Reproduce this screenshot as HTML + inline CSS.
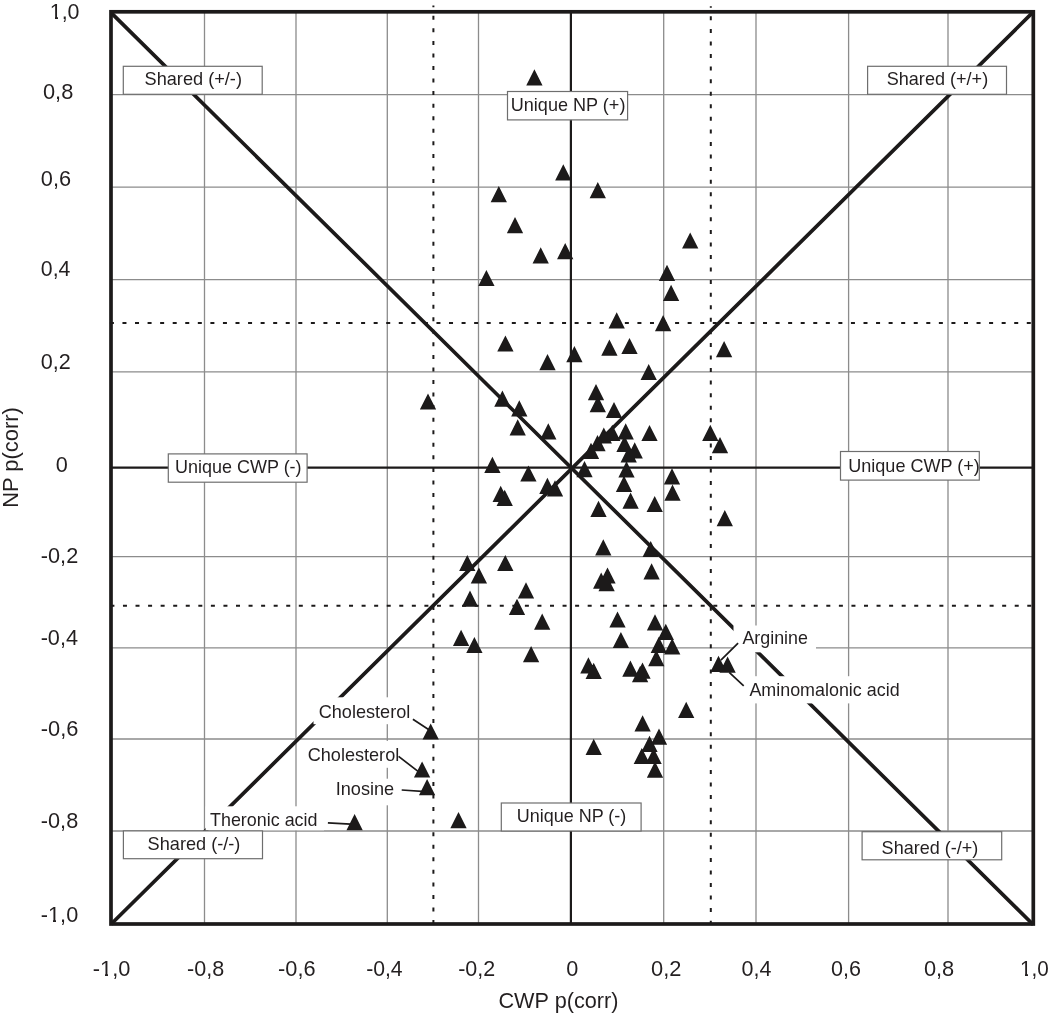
<!DOCTYPE html>
<html><head><meta charset="utf-8"><title>CWP vs NP p(corr)</title>
<style>html,body{margin:0;padding:0;background:#fff;}body{width:1050px;height:1015px;overflow:hidden;}svg{display:block;will-change:transform;}text{font-family:"Liberation Sans",sans-serif;fill:#231f20;}</style>
</head><body>
<svg width="1050" height="1015" viewBox="0 0 1050 1015">
<rect x="0" y="0" width="1050" height="1015" fill="#fff"/>
<path d="M204.5 11.8V924M296 11.8V924M387.3 11.8V924M478.5 11.8V924M663.7 11.8V924M756 11.8V924M848.6 11.8V924M948 11.8V924M111 94.6H1033.3M111 187.1H1033.3M111 279.6H1033.3M111 371.8H1033.3M111 556.7H1033.3M111 647.8H1033.3M111 739H1033.3M111 831H1033.3" stroke="#8c8c8c" stroke-width="1.3" fill="none"/>
<g stroke="#1c1a1a" stroke-width="2" fill="none" stroke-dasharray="4 8.56">
<path d="M433.4 5.5V924" stroke-dashoffset="2.3"/>
<path d="M710.8 6.2V924" stroke-dashoffset="2.4"/>
<path d="M109.9 323H1033.3" />
<path d="M110.4 605.8H1033.3" />
</g>
<path d="M570.9 11.8V924 M111 467.6H1033.3" stroke="#1c1a1a" stroke-width="2.2" fill="none"/>
<path d="M111 12.6L1033.3 924.8 M111 924.3L1033.3 11.9" stroke="#1c1a1a" stroke-width="3.7" fill="none"/>
<rect x="111" y="11.8" width="922.3" height="912.2" stroke="#1c1a1a" stroke-width="3.7" fill="none"/>
<path d="M526.25 85.5L542.55 85.5L534.4 69.3ZM555.15 180.4L571.45 180.4L563.3 164.2ZM490.65 202.2L506.95 202.2L498.8 186ZM589.65 198.3L605.95 198.3L597.8 182.1ZM506.85 233.3L523.15 233.3L515 217.1ZM682.05 248.6L698.35 248.6L690.2 232.4ZM532.55 263.5L548.85 263.5L540.7 247.3ZM557.05 259.2L573.35 259.2L565.2 243ZM478.25 286.1L494.55 286.1L486.4 269.9ZM658.85 280.9L675.15 280.9L667 264.7ZM662.95 301L679.25 301L671.1 284.8ZM608.55 328.4L624.85 328.4L616.7 312.2ZM654.95 331.3L671.25 331.3L663.1 315.1ZM497.25 351.6L513.55 351.6L505.4 335.4ZM601.25 355.7L617.55 355.7L609.4 339.5ZM621.35 354.1L637.65 354.1L629.5 337.9ZM566.25 362.2L582.55 362.2L574.4 346ZM539.35 370.3L555.65 370.3L547.5 354.1ZM715.95 357.2L732.25 357.2L724.1 341ZM640.55 380.1L656.85 380.1L648.7 363.9ZM587.85 400.3L604.15 400.3L596 384.1ZM589.65 412.3L605.95 412.3L597.8 396.1ZM605.85 418.1L622.15 418.1L614 401.9ZM419.85 409.6L436.15 409.6L428 393.4ZM494.25 406.8L510.55 406.8L502.4 390.6ZM511.15 416.4L527.45 416.4L519.3 400.2ZM509.55 435.4L525.85 435.4L517.7 419.2ZM540.15 439.4L556.45 439.4L548.3 423.2ZM617.55 439.4L633.85 439.4L625.7 423.2ZM641.35 441.1L657.65 441.1L649.5 424.9ZM595.65 443.6L611.95 443.6L603.8 427.4ZM604.15 440.9L620.45 440.9L612.3 424.7ZM589.35 451.2L605.65 451.2L597.5 435ZM582.85 459L599.15 459L591 442.8ZM616.35 451.9L632.65 451.9L624.5 435.7ZM626.55 458.4L642.85 458.4L634.7 442.2ZM620.55 462.5L636.85 462.5L628.7 446.3ZM618.35 477.4L634.65 477.4L626.5 461.2ZM576.35 477.3L592.65 477.3L584.5 461.1ZM702.15 441L718.45 441L710.3 424.8ZM711.85 453.2L728.15 453.2L720 437ZM484.25 473L500.55 473L492.4 456.8ZM520.25 481.6L536.55 481.6L528.4 465.4ZM492.55 502L508.85 502L500.7 485.8ZM496.55 506L512.85 506L504.7 489.8ZM539.25 494L555.55 494L547.4 477.8ZM546.85 496.4L563.15 496.4L555 480.2ZM615.85 492L632.15 492L624 475.8ZM622.45 508.7L638.75 508.7L630.6 492.5ZM590.35 517L606.65 517L598.5 500.8ZM646.55 512.1L662.85 512.1L654.7 495.9ZM663.85 484.5L680.15 484.5L672 468.3ZM664.35 500.7L680.65 500.7L672.5 484.5ZM716.65 526.2L732.95 526.2L724.8 510ZM459.15 571.1L475.45 571.1L467.3 554.9ZM497.15 571.1L513.45 571.1L505.3 554.9ZM470.75 583.6L487.05 583.6L478.9 567.4ZM461.85 606.7L478.15 606.7L470 590.5ZM517.85 598.4L534.15 598.4L526 582.2ZM508.85 614.9L525.15 614.9L517 598.7ZM534.05 629.8L550.35 629.8L542.2 613.6ZM595.15 555.4L611.45 555.4L603.3 539.2ZM642.55 557.1L658.85 557.1L650.7 540.9ZM643.45 579.4L659.75 579.4L651.6 563.2ZM599.35 583.6L615.65 583.6L607.5 567.4ZM593.05 588.7L609.35 588.7L601.2 572.5ZM598.45 591.2L614.75 591.2L606.6 575ZM609.35 627.6L625.65 627.6L617.5 611.4ZM646.85 630.5L663.15 630.5L655 614.3ZM612.75 648.1L629.05 648.1L620.9 631.9ZM657.65 639.9L673.95 639.9L665.8 623.7ZM650.65 653L666.95 653L658.8 636.8ZM664.05 654.4L680.35 654.4L672.2 638.2ZM648.15 666.3L664.45 666.3L656.3 650.1ZM580.25 673.4L596.55 673.4L588.4 657.2ZM585.55 679L601.85 679L593.7 662.8ZM622.25 676.7L638.55 676.7L630.4 660.5ZM634.35 678.7L650.65 678.7L642.5 662.5ZM631.95 682.3L648.25 682.3L640.1 666.1ZM710.35 671.9L726.65 671.9L718.5 655.7ZM719.45 672.7L735.75 672.7L727.6 656.5ZM452.95 646L469.25 646L461.1 629.8ZM466.25 653.1L482.55 653.1L474.4 636.9ZM522.95 662.3L539.25 662.3L531.1 646.1ZM678.05 718L694.35 718L686.2 701.8ZM634.45 731.4L650.75 731.4L642.6 715.2ZM650.85 744.8L667.15 744.8L659 728.6ZM641.35 752L657.65 752L649.5 735.8ZM585.55 755L601.85 755L593.7 738.8ZM633.65 764.1L649.95 764.1L641.8 747.9ZM645.45 764.1L661.75 764.1L653.6 747.9ZM646.85 777.7L663.15 777.7L655 761.5ZM422.55 739.6L438.85 739.6L430.7 723.4ZM413.95 777.6L430.25 777.6L422.1 761.4ZM418.95 795.3L435.25 795.3L427.1 779.1ZM346.45 830.2L362.75 830.2L354.6 814ZM450.35 828.3L466.65 828.3L458.5 812.1Z" fill="#1c1a1a"/>
<rect x="733.5" y="625.5" width="82.5" height="26.8" fill="#fff"/>
<rect x="744" y="676.2" width="160" height="27.2" fill="#fff"/>
<rect x="313.5" y="697.3" width="101" height="26.9" fill="#fff"/>
<rect x="302" y="740.9" width="99" height="26.9" fill="#fff"/>
<rect x="331" y="778.7" width="69" height="26.6" fill="#fff"/>
<rect x="205.6" y="806.3" width="118.4" height="24" fill="#fff"/>
<path d="M738.1 643.2L720.9 660.2M729.2 672.4L743.7 685.8M412.9 719.3L429.3 730M398.6 756.4L420 772.9M401.7 790L425.7 791.7M327.9 822.8L350.6 824.1" stroke="#1c1a1a" stroke-width="1.7" fill="none"/>
<rect x="123.3" y="66.3" width="138.9" height="28" fill="#fff" stroke="#6e6e6e" stroke-width="1.2"/>
<rect x="867.6" y="66.3" width="138.9" height="28" fill="#fff" stroke="#6e6e6e" stroke-width="1.2"/>
<rect x="507.5" y="91.5" width="120.1" height="28.4" fill="#fff" stroke="#6e6e6e" stroke-width="1.2"/>
<rect x="168.3" y="453.9" width="138.8" height="28.3" fill="#fff" stroke="#6e6e6e" stroke-width="1.2"/>
<rect x="840.5" y="451.5" width="138.8" height="28.6" fill="#fff" stroke="#6e6e6e" stroke-width="1.2"/>
<rect x="501.3" y="803" width="139.8" height="28" fill="#fff" stroke="#6e6e6e" stroke-width="1.2"/>
<rect x="123.4" y="830.9" width="139.1" height="27.8" fill="#fff" stroke="#6e6e6e" stroke-width="1.2"/>
<rect x="862.1" y="831.7" width="139.6" height="28.1" fill="#fff" stroke="#6e6e6e" stroke-width="1.2"/>
<text x="144.53" y="84.6" font-size="17.7" textLength="97.43" lengthAdjust="spacingAndGlyphs">Shared (+/-)</text>
<text x="886.73" y="84.6" font-size="17.7" textLength="101.45" lengthAdjust="spacingAndGlyphs">Shared (+/+)</text>
<text x="510.72" y="111.2" font-size="17.7" textLength="114.7" lengthAdjust="spacingAndGlyphs">Unique NP (+)</text>
<text x="174.93" y="473.2" font-size="17.7" textLength="126.69" lengthAdjust="spacingAndGlyphs">Unique CWP (-)</text>
<text x="848.22" y="472.1" font-size="17.7" textLength="131.59" lengthAdjust="spacingAndGlyphs">Unique CWP (+)</text>
<text x="516.73" y="822.4" font-size="17.7" textLength="109.55" lengthAdjust="spacingAndGlyphs">Unique NP (-)</text>
<text x="147.63" y="849.5" font-size="17.7" textLength="92.79" lengthAdjust="spacingAndGlyphs">Shared (-/-)</text>
<text x="881.64" y="854.3" font-size="17.7" textLength="96.61" lengthAdjust="spacingAndGlyphs">Shared (-/+)</text>
<text x="742.4" y="644" font-size="17.7" textLength="65.51" lengthAdjust="spacingAndGlyphs">Arginine</text>
<text x="749.4" y="696" font-size="17.7" textLength="150.22" lengthAdjust="spacingAndGlyphs">Aminomalonic acid</text>
<text x="318.68" y="717.5" font-size="17.7" textLength="91.67" lengthAdjust="spacingAndGlyphs">Cholesterol</text>
<text x="307.68" y="760.6" font-size="17.7" textLength="91.57" lengthAdjust="spacingAndGlyphs">Cholesterol</text>
<text x="335.71" y="795.1" font-size="17.7" textLength="58.51" lengthAdjust="spacingAndGlyphs">Inosine</text>
<text x="209.99" y="825.8" font-size="17.7" textLength="107.51" lengthAdjust="spacingAndGlyphs">Theronic acid</text>
<text x="49.77" y="18.5" font-size="22.3" textLength="29.75" lengthAdjust="spacingAndGlyphs">1,0</text>
<text x="42.97" y="98.65" font-size="22.3" textLength="30.31" lengthAdjust="spacingAndGlyphs">0,8</text>
<text x="40.82" y="186.4" font-size="22.3" textLength="30.25" lengthAdjust="spacingAndGlyphs">0,6</text>
<text x="40.85" y="276.4" font-size="22.3" textLength="29.57" lengthAdjust="spacingAndGlyphs">0,4</text>
<text x="40.83" y="368.7" font-size="22.3" textLength="30.04" lengthAdjust="spacingAndGlyphs">0,2</text>
<text x="55.63" y="471.9" font-size="22.3" textLength="12.05" lengthAdjust="spacingAndGlyphs">0</text>
<text x="40.83" y="562.7" font-size="22.3" textLength="37.36" lengthAdjust="spacingAndGlyphs">-0,2</text>
<text x="40.63" y="645" font-size="22.3" textLength="37.32" lengthAdjust="spacingAndGlyphs">-0,4</text>
<text x="40.82" y="735.5" font-size="22.3" textLength="37.58" lengthAdjust="spacingAndGlyphs">-0,6</text>
<text x="40.83" y="827.9" font-size="22.3" textLength="37.37" lengthAdjust="spacingAndGlyphs">-0,8</text>
<text x="40.83" y="922" font-size="22.3" textLength="37.37" lengthAdjust="spacingAndGlyphs">-1,0</text>
<text x="92.82" y="975.8" font-size="22.3" textLength="37.58" lengthAdjust="spacingAndGlyphs">-1,0</text>
<text x="187.03" y="975.8" font-size="22.3" textLength="37.16" lengthAdjust="spacingAndGlyphs">-0,8</text>
<text x="278.12" y="975.8" font-size="22.3" textLength="37.47" lengthAdjust="spacingAndGlyphs">-0,6</text>
<text x="366.15" y="975.8" font-size="22.3" textLength="36.49" lengthAdjust="spacingAndGlyphs">-0,4</text>
<text x="458.14" y="975.8" font-size="22.3" textLength="36.99" lengthAdjust="spacingAndGlyphs">-0,2</text>
<text x="566.13" y="975.8" font-size="22.3" textLength="12.05" lengthAdjust="spacingAndGlyphs">0</text>
<text x="651.02" y="975.8" font-size="22.3" textLength="30.36" lengthAdjust="spacingAndGlyphs">0,2</text>
<text x="741.54" y="975.8" font-size="22.3" textLength="29.89" lengthAdjust="spacingAndGlyphs">0,4</text>
<text x="831.03" y="975.8" font-size="22.3" textLength="29.93" lengthAdjust="spacingAndGlyphs">0,6</text>
<text x="923.92" y="975.8" font-size="22.3" textLength="30.36" lengthAdjust="spacingAndGlyphs">0,8</text>
<text x="1019.98" y="975.8" font-size="22.3" textLength="28.72" lengthAdjust="spacingAndGlyphs">1,0</text>
<text x="498.48" y="1007.9" font-size="21.2" textLength="119.98" lengthAdjust="spacingAndGlyphs">CWP p(corr)</text>
<rect x="51" y="16" width="4" height="4" fill="#fff"/>
<rect x="58" y="16" width="3" height="4" fill="#fff"/>
<rect x="49" y="920" width="4" height="3" fill="#fff"/>
<rect x="56" y="920" width="4" height="3" fill="#fff"/>
<rect x="101" y="973" width="4" height="4" fill="#fff"/>
<rect x="108" y="973" width="4" height="4" fill="#fff"/>
<rect x="1021" y="973" width="4" height="4" fill="#fff"/>
<rect x="1028" y="973" width="3" height="4" fill="#fff"/>
<text transform="translate(18.3 507.83) rotate(-90)" x="0" y="0" font-size="22.2" textLength="100.63" lengthAdjust="spacingAndGlyphs">NP p(corr)</text>
</svg>
</body></html>
